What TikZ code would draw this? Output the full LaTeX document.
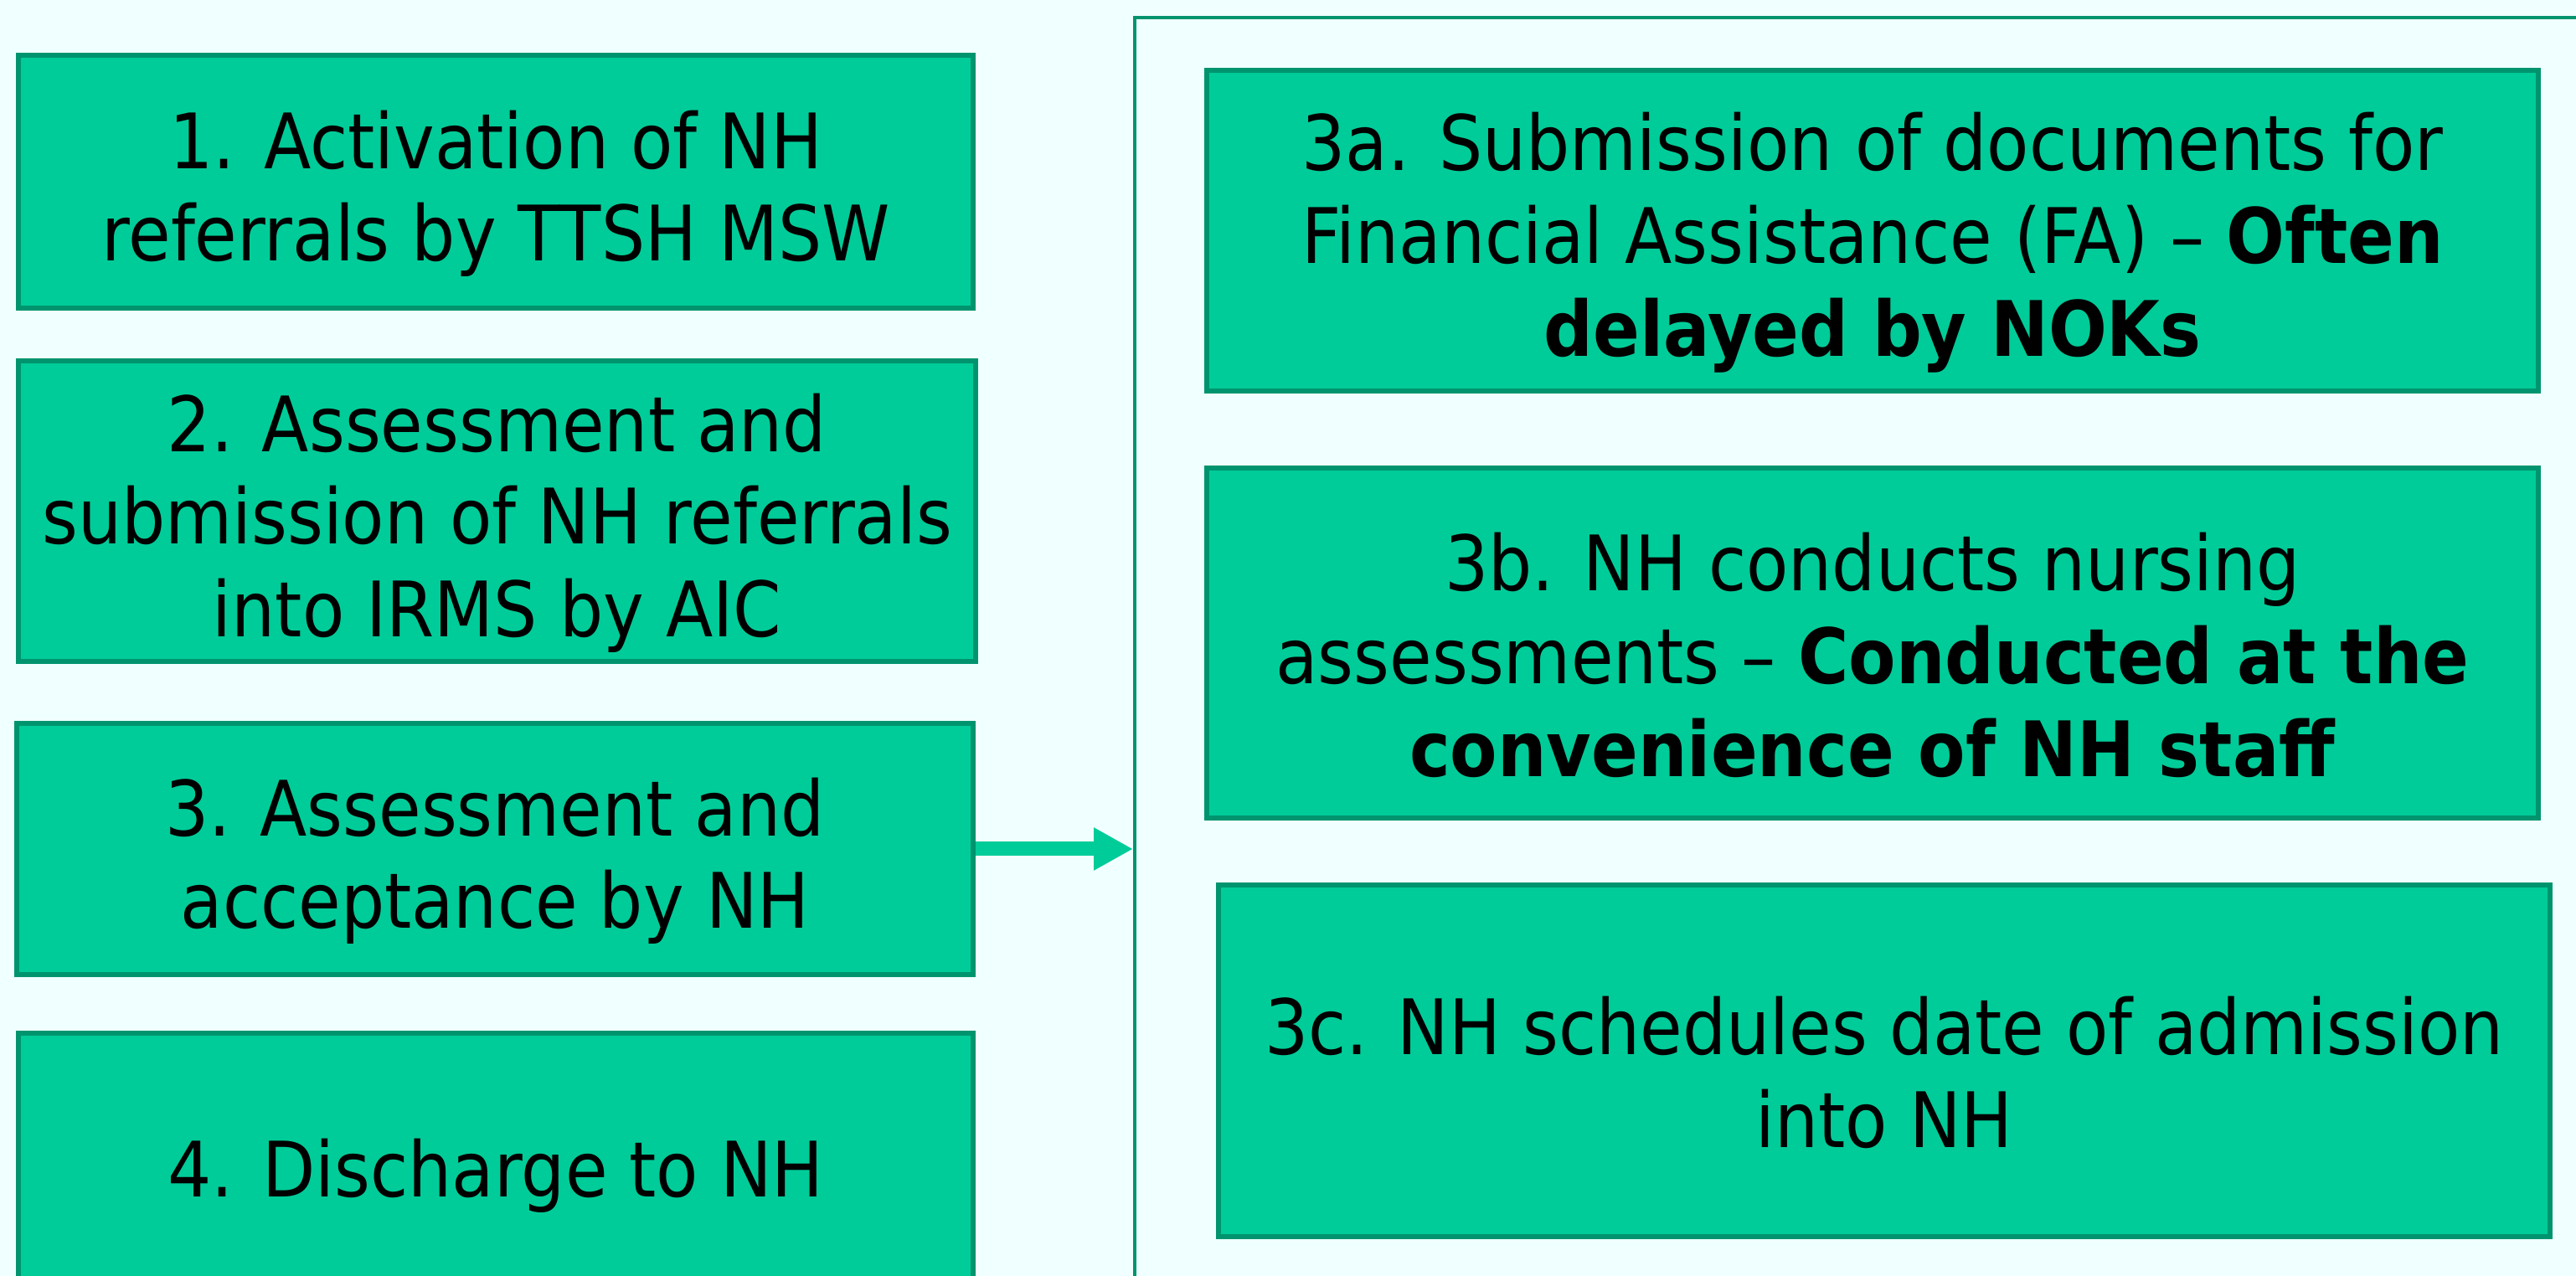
\documentclass[tikz,border=0pt]{standalone}
\usepackage{fontspec}
\setmainfont{DejaVu Sans}[FakeStretch=0.9]
\usepackage{tikz}
\usetikzlibrary{arrows.meta, positioning}
\definecolor{bgazure}{RGB}{240,255,255}
\definecolor{boxgreen}{RGB}{0,204,153}
\definecolor{edgegreen}{RGB}{0,148,110}
\newcommand{\topstrut}{\rule{0pt}{0.98cm}}
\tikzstyle{stage}=[rectangle, draw=edgegreen, line width=1.5pt, fill=boxgreen, text centered, align=center, inner sep=0pt, font=\fontsize{26}{31.5}\selectfont]
\tikzstyle{panel}=[rectangle, draw=edgegreen, line width=1.2pt, anchor=north west]
\tikzstyle{arrow}=[line width=0.17cm, boxgreen, -{Triangle[length=0.47cm, width=0.48cm]}]

\begin{document}
\begin{tikzpicture}
	\useasboundingbox(0,0) rectangle (30.76,15.24);
	\fill[bgazure](0,0) rectangle (30.76,15.24);
	\clip(0,0) rectangle (30.76,15.24);
	
	% left column
	\node(n1)[stage, minimum width=11.40cm, minimum height=3.02cm] at (5.92,13.07){\topstrut1. Activation of NH\\referrals by TTSH MSW};
	\node(n2)[stage, minimum width=11.43cm, minimum height=3.59cm] at (5.935,9.135){\topstrut2. Assessment and\\submission of NH referrals\\into IRMS by AIC};
	\node(n3)[stage, minimum width=11.42cm, minimum height=3.00cm] at (5.91,5.10){\topstrut3. Assessment and\\acceptance by NH};
	\node(n4)[stage, minimum width=11.40cm, minimum height=3.12cm] at (5.92,1.34){\topstrut4. Discharge to NH};
	
	% right panel
	\node(frame)[panel, minimum width=17.5cm, minimum height=16.5cm] at (13.53,15.05){};
	\node(n3a)[stage, minimum width=15.90cm, minimum height=3.83cm] at (22.36,12.485){\topstrut3a. Submission of documents for\\Financial Assistance (FA) – \textbf{Often}\\\textbf{delayed by NOKs}};
	\node(n3b)[stage, minimum width=15.90cm, minimum height=4.18cm] at (22.36,7.56){\topstrut3b. NH conducts nursing\\assessments – \textbf{Conducted at the}\\\textbf{convenience of NH staff}};
	\node(n3c)[stage, minimum width=15.90cm, minimum height=4.20cm] at (22.50,2.57){\topstrut3c. NH schedules date of admission\\into NH};
	
	\draw[arrow](n3.east)--(n3.east -| frame.west);
\end{tikzpicture}
\end{document}
